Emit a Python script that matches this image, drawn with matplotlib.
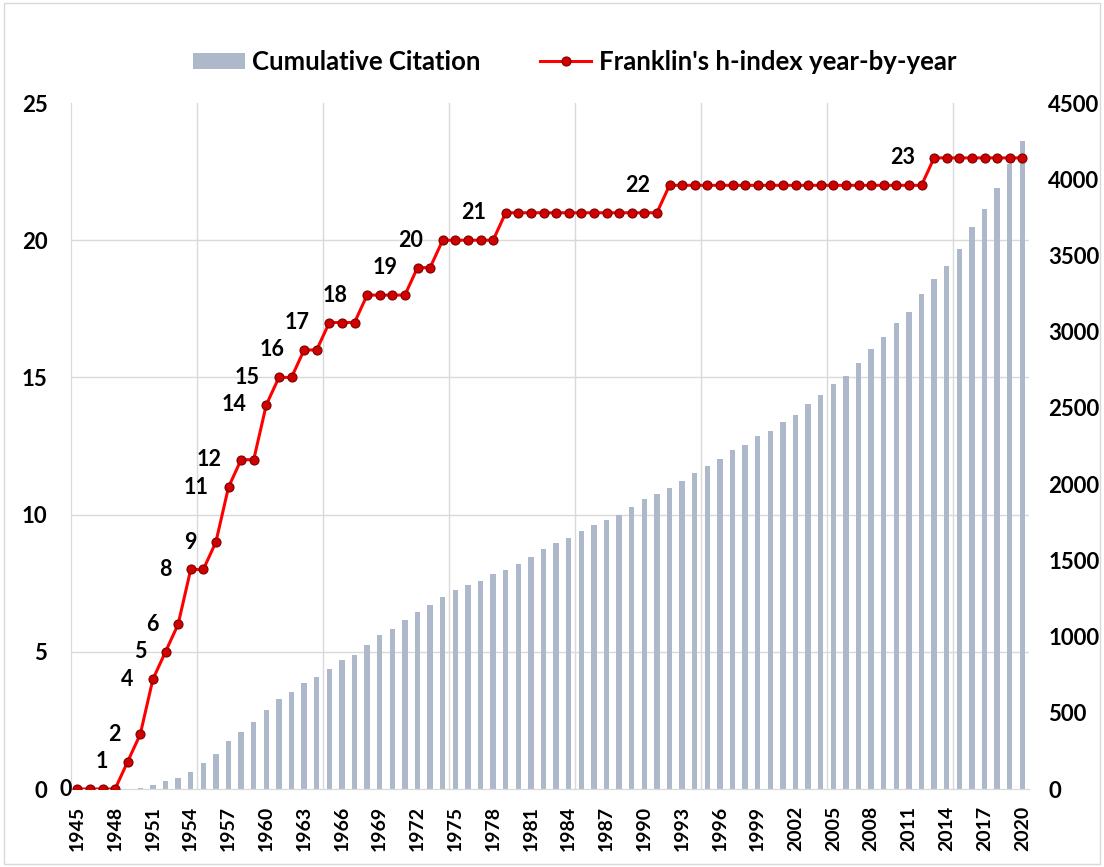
import matplotlib
matplotlib.use("Agg")
import matplotlib.pyplot as plt
from matplotlib.patches import Rectangle
import numpy as np

years = list(range(1945, 2021))
h_index = [0, 0, 0, 0, 1, 2, 4, 5, 6, 8, 8, 9, 11, 12, 12, 14, 15, 15, 16, 16,
           17, 17, 17, 18, 18, 18, 18, 19, 19, 20, 20, 20, 20, 20,
           21, 21, 21, 21, 21, 21, 21, 21, 21, 21, 21, 21, 21,
           22, 22, 22, 22, 22, 22, 22, 22, 22, 22, 22, 22, 22, 22, 22, 22, 22, 22, 22, 22, 22,
           23, 23, 23, 23, 23, 23, 23, 23]
citations = [0, 0, 0, 0, 2, 9, 26, 52, 70, 112, 171, 230, 315, 372, 440, 516, 590, 634,
             693, 735, 785, 844, 877, 945, 1012, 1052, 1111, 1163, 1205, 1262, 1305,
             1338, 1362, 1408, 1439, 1474, 1524, 1572, 1616, 1649, 1690, 1732, 1767,
             1800, 1850, 1900, 1933, 1977, 2020, 2071, 2120, 2162, 2222, 2254, 2314,
             2346, 2406, 2456, 2525, 2584, 2659, 2709, 2796, 2888, 2962, 3054, 3129,
             3248, 3346, 3432, 3542, 3685, 3804, 3944, 4100, 4251]
label_years = [1945, 1949, 1950, 1951, 1952, 1953, 1954, 1956, 1957, 1958, 1960, 1961,
               1963, 1965, 1968, 1972, 1974, 1979, 1992, 2013]

FONT = ['Lato', 'DejaVu Sans']
plt.rcParams['font.family'] = FONT

fig = plt.figure(figsize=(11.04, 8.67), dpi=100)
ax_bar = fig.add_axes([71/1104, 1-789/867, (1028.6-71)/1104, (789-103)/867])
ax_line = ax_bar.twinx()

# bars (right axis)
ax_bar.bar(years, citations, width=0.42, color='#ADB9CA', zorder=2, label='Cumulative Citation')
ax_bar.set_ylim(0, 4500)
ax_bar.set_xlim(1944.5, 2020.5)
ax_bar.yaxis.tick_right()
ax_bar.yaxis.set_label_position('right')
ax_bar.set_yticks(np.arange(0, 4501, 500))
# gridlines aligned with left-axis major ticks (every 5 units of 25)
ax_bar.set_yticks(np.arange(900, 4501, 900), minor=True)
ax_bar.set_xticks(np.arange(1954.5, 2020, 10), minor=True)
ax_bar.grid(which='minor', color='#D9D9D9', linewidth=1.0, zorder=0)
ax_bar.grid(which='major', visible=False)
ax_bar.set_axisbelow(True)
ax_bar.tick_params(which='minor', length=0)
ax_bar.set_xticks(years[::3])
ax_bar.set_xticklabels([str(y) for y in years[::3]], rotation=90, fontsize=14,
                       fontweight='bold')
ax_bar.tick_params(axis='x', which='major', length=0, pad=12)
ax_bar.tick_params(axis='y', which='major', length=0, pad=14, labelsize=16)
for t in ax_bar.get_yticklabels():
    t.set_fontweight('bold')

# line (left axis)
ax_line.plot(years, h_index, color='#FF0000', linewidth=2.2, marker='o', markersize=6.5,
             markerfacecolor='#D00000', markeredgecolor='#7A0000', markeredgewidth=0.8,
             zorder=3, label="Franklin's h-index year-by-year")
ax_line.set_ylim(0, 25)
ax_line.yaxis.tick_left()
ax_line.set_yticks(np.arange(0, 26, 5))
ax_line.tick_params(axis='y', length=0, pad=17, labelsize=16)
for t in ax_line.get_yticklabels():
    t.set_fontweight('bold')

for y in label_years:
    v = h_index[years.index(y)]
    dx = -4 if v == 0 else -14
    ax_line.annotate(str(v), xy=(y, v), xytext=(dx, 0), textcoords='offset points',
                     ha='right', va='center', fontsize=15.5, fontweight='bold', color='black',
                     annotation_clip=False)

for a in (ax_bar, ax_line):
    for s in ('top', 'right'):
        a.spines[s].set_visible(False)
    a.spines['left'].set_color('#D9D9D9')
    a.spines['bottom'].set_color('#D9D9D9')

h1, l1 = ax_bar.get_legend_handles_labels()
h2, l2 = ax_line.get_legend_handles_labels()
fig.legend(h1 + h2, l1 + l2, loc='center', bbox_to_anchor=(575/1104, 1-62/867), ncol=2,
           frameon=False, prop={'family': FONT, 'weight': 'bold', 'size': 18.5},
           handlelength=2.0, handleheight=0.6, handletextpad=0.3, columnspacing=2.3)

fig.add_artist(Rectangle((0.004, 0.004), 0.992, 0.992, transform=fig.transFigure,
                         fill=False, edgecolor='#D9D9D9', linewidth=1.0))

fig.savefig('out.png', dpi=100)
